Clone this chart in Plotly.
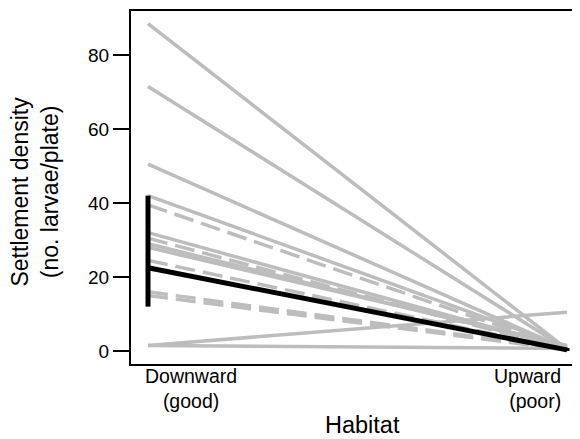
import plotly.graph_objects as go

# Habitat positions (0 = Downward, 1 = Upward)
habitat_x = [0, 1]
category_labels = ["Downward<br>(good)", "Upward<br>(poor)"]

# Individual trajectories (settlement density, no. larvae/plate)
solid_down = [88.5, 71.5, 50.5, 42.0, 32.0, 29.0, 28.0, 1.5, 1.5]
solid_up = [0.5, 0.5, 0.5, 1.0, 0.8, 1.0, 1.5, 10.5, 0.7]
dashed_down = [39.5, 30.5, 24.5, 16.0, 15.0]
dashed_up = [0.5, 0.3, 0.3, 0.5, 0.3]

# Mean trajectory with range
mean_vals = [22.5, 0.3]
mean_hi = [42.0, 0.8]
mean_lo = [12.0, 0.0]

y_ticks = [0, 20, 40, 60, 80]

GRAY = "#bdbdbd"
FONT = "Liberation Sans, Arial, Helvetica, sans-serif"

fig = go.Figure()

for d, u in zip(solid_down, solid_up):
    fig.add_trace(go.Scatter(x=habitat_x, y=[d, u], mode="lines",
                             line=dict(color=GRAY, width=3.5),
                             hoverinfo="skip", showlegend=False))
for d, u in zip(dashed_down, dashed_up):
    fig.add_trace(go.Scatter(x=habitat_x, y=[d, u], mode="lines",
                             line=dict(color=GRAY, width=3.5, dash="20px,8px"),
                             hoverinfo="skip", showlegend=False))

fig.add_trace(go.Scatter(
    x=habitat_x, y=mean_vals, mode="lines",
    line=dict(color="black", width=5),
    error_y=dict(type="data", symmetric=False,
                 array=[h - m for h, m in zip(mean_hi, mean_vals)],
                 arrayminus=[m - l for m, l in zip(mean_vals, mean_lo)],
                 color="black", thickness=5, width=0),
    hoverinfo="skip", showlegend=False))

fig.update_layout(
    width=572, height=431,
    margin=dict(l=123, r=0, t=3, b=75),
    paper_bgcolor="white", plot_bgcolor="white",
    font=dict(family=FONT, color="black", size=19),
    xaxis=dict(range=[-0.0406, 1.031], showgrid=False, zeroline=False,
               showline=True, linecolor="black", linewidth=2, mirror=True,
               showticklabels=False, ticks=""),
    yaxis=dict(range=[-3.51, 91.9], showgrid=False, zeroline=False,
               showline=True, linecolor="black", linewidth=2,
               tickvals=y_ticks, ticks="outside", ticklen=16, tickwidth=1.5,
               tickcolor="black", tickfont=dict(size=19)),
    annotations=[
        dict(text=category_labels[0], xref="paper", yref="paper",
             x=0.1336, y=-0.0694, xanchor="center", yanchor="middle",
             align="center", showarrow=False, font=dict(size=19.5)),
        dict(text=category_labels[1], xref="paper", yref="paper",
             x=0.9621, y=-0.0694, xanchor="right", yanchor="middle",
             align="right", showarrow=False, font=dict(size=19.5)),
        dict(text="Habitat", xref="paper", yref="paper", x=0.5167, y=-0.1728,
             xanchor="center", yanchor="middle", showarrow=False,
             font=dict(size=23.5)),
        dict(text="Settlement density<br>(no. larvae/plate)", xref="paper",
             yref="paper", x=-0.2127, y=0.49, xanchor="center",
             yanchor="middle", textangle=-90, showarrow=False,
             font=dict(size=23)),
    ],
)

fig.write_html("out.html")
